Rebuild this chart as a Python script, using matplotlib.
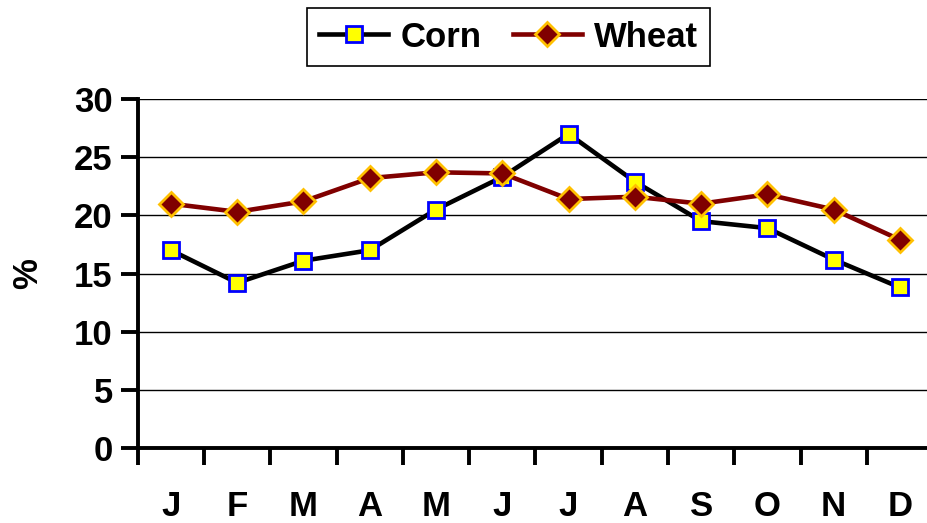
import matplotlib
matplotlib.use('Agg')
import matplotlib.pyplot as plt
import numpy as np

plt.rcParams.update({'font.family': ['Liberation Sans', 'DejaVu Sans'], 'font.weight': 'bold'})

months = ['J', 'F', 'M', 'A', 'M', 'J', 'J', 'A', 'S', 'O', 'N', 'D']
corn = [17.0, 14.2, 16.1, 17.0, 20.5, 23.3, 27.0, 22.9, 19.5, 18.9, 16.2, 13.8]
wheat = [21.0, 20.3, 21.2, 23.2, 23.7, 23.6, 21.4, 21.6, 21.0, 21.8, 20.5, 17.9]
yticks = [0, 5, 10, 15, 20, 25, 30]

fs = 25

fig = plt.figure(figsize=(9.28, 5.23), dpi=100)
ax = fig.add_axes([0.1485, 0.1434, 0.857, 0.6673])

x = np.arange(len(months))
ax.plot(x, corn, color='black', lw=3.3, marker='s', ms=12, mfc='#ffff00', mec='#0000ff', mew=2, label='Corn', zorder=3)
ax.plot(x, wheat, color='#800000', lw=3.3, marker='D', ms=12, mfc='#800000', mec='#ffc000', mew=2, label='Wheat', zorder=4)

ax.set_xlim(-0.5, len(months) - 0.5)
ax.set_ylim(0, 30)
ax.set_yticks(yticks)
ax.set_yticklabels([str(v) for v in yticks], fontsize=fs, fontweight='bold')
for v in yticks[1:]:
    ax.axhline(v, color='black', lw=1, zorder=1)

# ticks sit between the months, labels under each month
ax.set_xticks(np.arange(-0.5, len(months), 1.0))
ax.set_xticklabels([])
ax.set_xticks(x, minor=True)
ax.set_xticklabels(months, minor=True, fontsize=fs, fontweight='bold')
ax.tick_params(axis='x', which='major', direction='out', length=12, width=2.8)
ax.tick_params(axis='x', which='minor', length=0, pad=30)
ax.tick_params(axis='y', direction='out', length=12, width=2.8, pad=6)

for s in ['top', 'right']:
    ax.spines[s].set_visible(False)
for s in ['left', 'bottom']:
    ax.spines[s].set_linewidth(2.8)

ax.set_ylabel('%', fontsize=fs, fontweight='bold', labelpad=22)

leg = fig.legend(loc='center', bbox_to_anchor=(0.548, 0.929), ncol=2, fontsize=fs,
                 frameon=True, fancybox=False, edgecolor='black', framealpha=1,
                 handlelength=2.0, columnspacing=0.9, handletextpad=0.35, borderpad=0.35)
leg.get_frame().set_linewidth(1.2)
for t in leg.get_texts():
    t.set_fontweight('bold')

fig.savefig('out.png', dpi=100)
